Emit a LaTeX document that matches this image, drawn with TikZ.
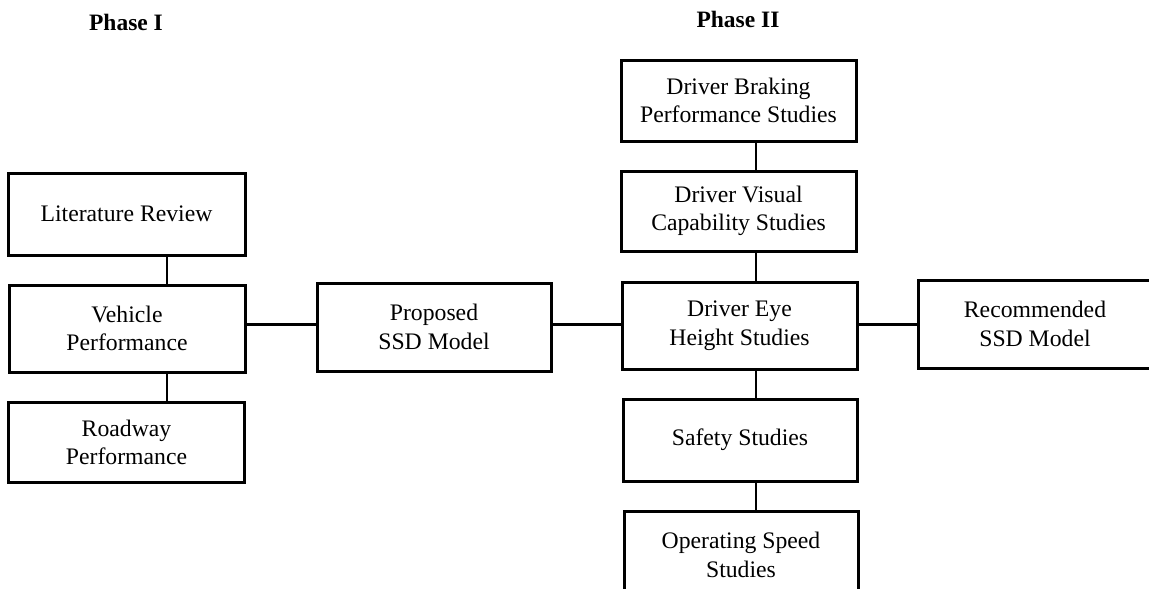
\documentclass[tikz,border=0pt]{standalone}
\usepackage{fontspec}
\setmainfont{Liberation Serif}
\begin{document}
\begin{tikzpicture}[x=1pt,y=-1pt,
  box/.style={draw=black, line width=3pt, inner sep=0pt, align=center,
    font=\fontsize{23.7}{28.5}\selectfont},
  phase/.style={inner sep=0pt, font=\fontsize{23.5}{28}\selectfont\bfseries},
  conn/.style={line width=2.7pt}]
\useasboundingbox (0,0) rectangle (1149,589);
\clip (0,0) rectangle (1149,589);
\fill[white] (0,0) rectangle (1149,589);

\node[phase] (p1) at (126,22) {Phase I};
\node[phase] (p2) at (738,19) {Phase II};

\node[box, minimum width=237, minimum height=82] (lit) at (126.5,214) {Literature Review};
\node[box, minimum width=236, minimum height=87] (veh) at (127,328.5) {Vehicle\\Performance};
\node[box, minimum width=236, minimum height=80] (road) at (126.5,442.5) {Roadway\\Performance};
\node[box, minimum width=234, minimum height=88] (prop) at (434,327) {Proposed\\SSD Model};
\node[box, minimum width=235, minimum height=81] (brak) at (738.5,100.5) {Driver Braking\\Performance Studies};
\node[box, minimum width=235, minimum height=80] (vis) at (738.5,211) {Driver Visual\\Capability Studies};
\node[box, minimum width=235, minimum height=87] (eye) at (739.5,325.5) {Driver Eye\\Height Studies};
\node[box, minimum width=234, minimum height=88] (rec) at (1035,324) {Recommended\\SSD Model};
\node[box, minimum width=234, minimum height=82] (safe) at (740,440) {Safety Studies};
\node[box, minimum width=234, minimum height=88] (oper) at (741,555) {Operating Speed\\Studies};

\coordinate (vl) at (167,0);
\coordinate (vr) at (756,0);
\coordinate (hy) at (0,324.5);

\draw[conn] (lit.south -| vl) -- (veh.north -| vl);
\draw[conn] (veh.south -| vl) -- (road.north -| vl);
\draw[conn] (brak.south -| vr) -- (vis.north -| vr);
\draw[conn] (vis.south -| vr) -- (eye.north -| vr);
\draw[conn] (eye.south -| vr) -- (safe.north -| vr);
\draw[conn] (safe.south -| vr) -- (oper.north -| vr);
\draw[conn] (veh.east |- hy) -- (prop.west |- hy);
\draw[conn] (prop.east |- hy) -- (eye.west |- hy);
\draw[conn] (eye.east |- hy) -- (rec.west |- hy);
\end{tikzpicture}
\end{document}
